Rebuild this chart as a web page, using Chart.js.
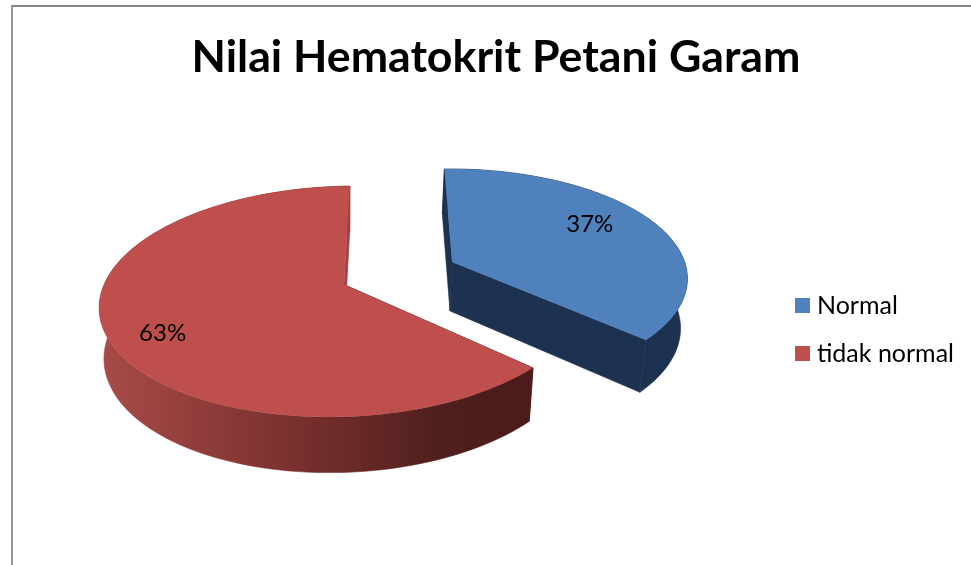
<!DOCTYPE html>
<html>
<head>
<meta charset="utf-8">
<title>Nilai Hematokrit Petani Garam</title>
<script src="https://cdn.jsdelivr.net/npm/chart.js@4"></script>
<style>
  html, body { margin: 0; padding: 0; background: #fff; overflow: hidden; }
  #frame { position: absolute; left: 11px; top: 5px; width: 971px; height: 570px;
           border-left: 2px solid #999; border-top: 2px solid #858585; }
  #pie { position: absolute; left: 0; top: 0; }
</style>
</head>
<body>
<div id="frame"></div>
<canvas id="pie" width="971" height="565"></canvas>
<script>
const categories = ["Normal", "tidak normal"];
const values = [37, 63];
const topColors = ["#4f81bd", "#be4f4c"];

// how far each slice is pulled out on the flat disc, and its size there
const pull = [[0.453, 0.206], [0, 0]];
const sliceSize = [0.998, 1];
// where the percent text sits on its slice: part of radius, degrees off the middle
const labelRadius = [0.728, 0.8];
const labelTurn = [-5.7, -5.7];

// 3D look of the pie, flat disc -> screen
const view = { cx: 344, cy: 284.5, rx: 240, ry: 113, k: 0.147, shear: 13 };

function project(u, v) {
  const w = 1 + view.k * v;
  return [view.cx + (view.rx * u + view.shear * v) / w, view.cy - view.ry * v / w];
}
// same point on the lower face of the pie
function lower(p) {
  return [view.cx + 0.98 * (p[0] - view.cx), p[1] + 49 + 0.043 * (p[1] - 262)];
}
function outline(ctx, pts) {
  ctx.beginPath();
  pts.forEach((p, i) => (i ? ctx.lineTo(p[0], p[1]) : ctx.moveTo(p[0], p[1])));
  ctx.closePath();
}
function sliceGeometry(arc, i) {
  const mid = (arc.startAngle + arc.endAngle) / 2;
  const ou = pull[i][0];
  const ov = pull[i][1];
  const rim = [];
  for (let n = 0; n <= 120; n++) {
    const a = arc.startAngle + (arc.endAngle - arc.startAngle) * n / 120;
    rim.push(project(ou + sliceSize[i] * Math.cos(a), ov - sliceSize[i] * Math.sin(a)));
  }
  return { mid, ou, ov, rim, apex: project(ou, ov) };
}

const pie3d = {
  id: "pie3d",
  beforeDatasetsDraw(chart) {
    const ctx = chart.ctx;
    const arcs = chart.getDatasetMeta(0).data;
    const redSide = ctx.createLinearGradient(107, 0, 500, 0);
    redSide.addColorStop(0, "#a74a47");
    redSide.addColorStop(0.5, "#772f2d");
    redSide.addColorStop(0.85, "#4f1f1d");
    redSide.addColorStop(1, "#4b1c1a");
    const cutColors = [["#1d3250", "#1d3250"], ["#4b1c1a", "#a0413f"]];
    const rimColors = ["#1d3250", redSide];

    arcs.forEach((arc, i) => {
      const g = sliceGeometry(arc, i);
      const first = g.rim[0];
      const last = g.rim[g.rim.length - 1];
      ctx.save();
      ctx.lineWidth = 0.6;
      ctx.fillStyle = ctx.strokeStyle = cutColors[i][0];
      outline(ctx, [g.apex, first, lower(first), lower(g.apex)]);
      ctx.fill();
      ctx.stroke();
      ctx.fillStyle = ctx.strokeStyle = rimColors[i];
      outline(ctx, g.rim.concat(g.rim.map(lower).reverse()));
      ctx.fill();
      ctx.stroke();
      ctx.fillStyle = ctx.strokeStyle = cutColors[i][1];
      outline(ctx, [g.apex, last, lower(last), lower(g.apex)]);
      ctx.fill();
      ctx.stroke();
      ctx.fillStyle = topColors[i];
      outline(ctx, [g.apex].concat(g.rim));
      ctx.fill();
      ctx.restore();
    });

    // percent labels
    ctx.save();
    ctx.font = "24px Lato";
    ctx.fillStyle = "#000";
    ctx.textAlign = "center";
    ctx.textBaseline = "middle";
    arcs.forEach((arc, i) => {
      const g = sliceGeometry(arc, i);
      const a = g.mid + labelTurn[i] * Math.PI / 180;
      const p = project(g.ou + Math.cos(a) * labelRadius[i], g.ov - Math.sin(a) * labelRadius[i]);
      ctx.fillText(values[i] + "%", p[0], p[1]);
    });
    ctx.restore();
    return false;
  },
};

function swatch(color) {
  const c = document.createElement("canvas");
  c.width = 15;
  c.height = 15;
  const x = c.getContext("2d");
  x.fillStyle = color;
  x.fillRect(0, 0, 15, 15);
  return c;
}

new Chart(document.getElementById("pie").getContext("2d"), {
  type: "pie",
  data: {
    labels: categories,
    datasets: [{ data: values, backgroundColor: topColors, borderWidth: 0 }],
  },
  options: {
    responsive: false,
    animation: false,
    rotation: -1.5,
    layout: { padding: { left: 28, right: 7 } },
    plugins: {
      title: {
        display: true,
        text: "Nilai Hematokrit Petani Garam",
        color: "#000",
        font: { family: "Lato", size: 44.7, weight: "bold" },
        padding: { top: 31, bottom: 10 },
      },
      legend: {
        position: "right",
        fullSize: false,
        labels: {
          color: "#000",
          font: { family: "Lato", size: 25 },
          usePointStyle: true,
          boxWidth: 4,
          padding: 23,
          generateLabels: () =>
            categories.map((name, i) => ({
              text: name,
              pointStyle: swatch(topColors[i]),
              fontColor: "#000",
              datasetIndex: 0,
              index: i,
            })),
        },
      },
      tooltip: { enabled: false },
    },
  },
  plugins: [pie3d],
});
</script>
</body>
</html>
